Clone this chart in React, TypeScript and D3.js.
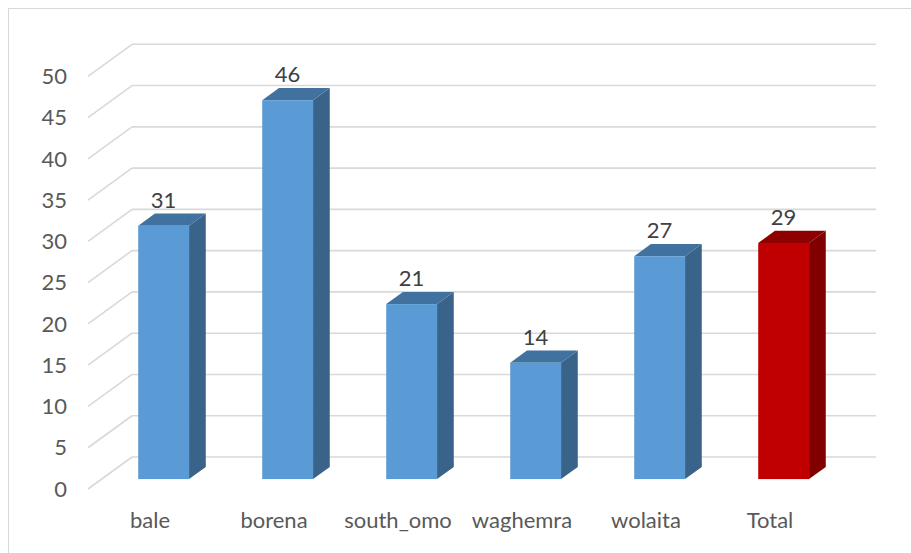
import React from "react";
import * as d3 from "d3";

const categories = ["bale", "borena", "south_omo", "waghemra", "wolaita", "Total"];
const values = [30.7, 45.9, 21.2, 14.1, 27.0, 28.6];
const yTicks = [0, 5, 10, 15, 20, 25, 30, 35, 40, 45, 50];

const W = 911;
const H = 553;
// front floor edge
const frontX0 = 88;
const frontWidth = 744;
const floorFrontY = 489;
// depth offset to back wall
const DX = 44;
const DY = -32;
// bar depth extents (fraction of full depth)
const barT0 = 0.31;
const barT1 = 0.69;

const x = d3.scaleBand<string>().domain(categories).range([0, frontWidth]).paddingInner(0.59).paddingOuter(0.295);
const yv = d3.scaleLinear().domain([0, 50]).range([0, 412.7]);

const px = (u: number, t: number) => frontX0 + u + DX * t;
const py = (v: number, t: number) => floorFrontY + DY * t - yv(v);

const FONT = "Lato, 'Open Sans', sans-serif";
const TXT = "#595959";
const FS = 22;

export default function App() {
  return (
    <svg
      width={W}
      height={H}
      style={{ position: "fixed", left: 0, top: 0, background: "#fff" }}
      xmlns="http://www.w3.org/2000/svg"
    >
      <rect x={8.5} y={8.5} width={1000} height={1000} fill="#fff" stroke="#D9D9D9" strokeWidth={1} />
      {/* gridlines */}
      {yTicks.map((v) => (
        <g key={v} stroke="#D9D9D9" strokeWidth={1.6} fill="none">
          <line x1={px(0, 0)} y1={py(v, 0)} x2={px(0, 1)} y2={py(v, 1)} />
          <line x1={px(0, 1)} y1={py(v, 1)} x2={px(frontWidth, 1)} y2={py(v, 1)} />
        </g>
      ))}
      {/* y labels */}
      {yTicks.map((v) => (
        <text
          key={"l" + v}
          x={67}
          y={py(v, 0)}
          dy="0.35em"
          textAnchor="end"
          fontFamily={FONT}
          fontSize={FS}
          fill={TXT}
        >
          {v}
        </text>
      ))}
      {/* bars */}
      {categories.map((c, i) => {
        const v = values[i];
        const isTotal = c === "Total";
        const front = isTotal ? "#C00000" : "#5B9BD5";
        const side = isTotal ? "#800000" : "#3A6389";
        const top = isTotal ? "#8E0000" : "#41729F";
        const u0 = x(c)!;
        const u1 = u0 + x.bandwidth();
        const uc = (u0 + u1) / 2;
        const fx0 = px(u0, barT0);
        const fx1 = px(u1, barT0);
        const bx1 = px(u1, barT1);
        const bx0 = px(u0, barT1);
        const fyB = py(0, barT0);
        const fyT = py(v, barT0);
        const byB = py(0, barT1);
        const byT = py(v, barT1);
        return (
          <g key={c}>
            <polygon points={`${fx1},${fyB} ${bx1},${byB} ${bx1},${byT} ${fx1},${fyT}`} fill={side} />
            <polygon points={`${fx0},${fyT} ${fx1},${fyT} ${bx1},${byT} ${bx0},${byT}`} fill={top} />
            <rect x={fx0} y={fyT} width={fx1 - fx0} height={fyB - fyT} fill={front} />
            <text
              x={(fx0 + fx1) / 2}
              y={byT - 6}
              textAnchor="middle"
              fontFamily={FONT}
              fontSize={FS}
              fill="#404040"
            >
              {Math.round(v)}
            </text>
            <text
              x={px(uc, 0)}
              y={520}
              dy="0.35em"
              textAnchor="middle"
              fontFamily={FONT}
              fontSize={FS}
              fill={TXT}
            >
              {c}
            </text>
          </g>
        );
      })}
    </svg>
  );
}
